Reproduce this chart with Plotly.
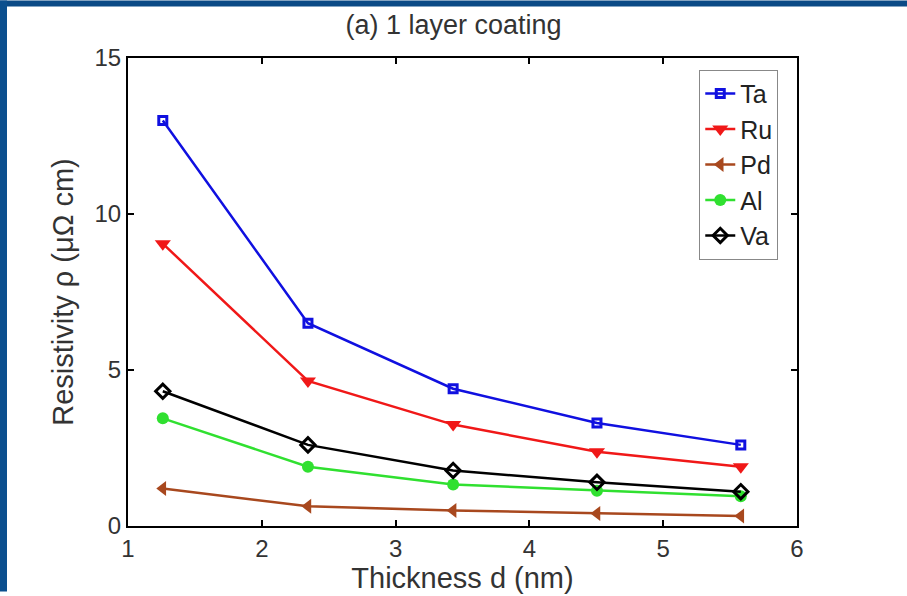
import plotly.graph_objects as go

# Film thickness (nm) and resistivity (µΩ·cm) for each coating metal
thickness = [1.26, 2.345, 3.43, 4.505, 5.58]
rho_ta = [13.0, 6.5, 4.4, 3.3, 2.6]
rho_ru = [9.05, 4.65, 3.25, 2.38, 1.9]
rho_pd = [1.2, 0.63, 0.5, 0.4, 0.32]
rho_al = [3.45, 1.9, 1.33, 1.13, 0.95]
rho_va = [4.32, 2.6, 1.78, 1.4, 1.1]

series = [
    ("Ta", rho_ta, "#1010e0", dict(symbol="square-open", size=8, line=dict(width=3))),
    ("Ru", rho_ru, "#f01818", dict(symbol="triangle-down", size=14)),
    ("Pd", rho_pd, "#a8481e", dict(symbol="triangle-left", size=13)),
    ("Al", rho_al, "#30e030", dict(symbol="circle", size=12)),
    ("Va", rho_va, "#000000", dict(symbol="diamond-open", size=11, line=dict(width=3))),
]

FONT = "Liberation Sans, Arial, sans-serif"

fig = go.Figure()
for name, vals, color, marker in series:
    fig.add_trace(go.Scatter(
        x=thickness, y=vals, name=name, mode="lines+markers",
        line=dict(color=color, width=2.5),
        marker=dict(color=color, **marker),
    ))

W, H = 907, 596
L, R, T, B = 128, 110, 58, 66

fig.update_layout(
    width=W, height=H,
    margin=dict(l=L, r=R, t=T, b=B),
    paper_bgcolor="white", plot_bgcolor="white",
    font=dict(family=FONT, size=24, color="#333333"),
    title=dict(text="(a) 1 layer coating", x=0.5, xanchor="center",
               y=1 - 25 / H, yanchor="middle", font=dict(size=27, color="#333333")),
    xaxis=dict(range=[1, 6], tickvals=[1, 2, 3, 4, 5, 6], showgrid=False, zeroline=False,
               showline=True, linecolor="black", linewidth=2, mirror="ticks",
               ticks="inside", ticklen=6, tickcolor="black", tickwidth=1.5,
               title=dict(text="Thickness d (nm)", standoff=2),
               tickfont=dict(size=24)),
    yaxis=dict(range=[0, 15], tickvals=[0, 5, 10, 15], showgrid=False, zeroline=False,
               showline=True, linecolor="black", linewidth=2, mirror="ticks",
               ticks="inside", ticklen=6, tickcolor="black", tickwidth=1.5,
               title=dict(text="Resistivity ρ (μΩ cm)", standoff=12),
               tickfont=dict(size=24)),
    legend=dict(x=0.972, y=0.975, xanchor="right", yanchor="top",
                bgcolor="white", bordercolor="#888888", borderwidth=1,
                font=dict(size=25, color="#222222"), itemwidth=30,
                tracegroupgap=0),
    showlegend=True,
)

# Dark blue slide border along the top and left edges
pw = W - L - R
ph = H - T - B
def px_x(p):
    return (p - L) / pw
def px_y(p):
    return (H - B - p) / ph

fig.add_shape(type="rect", xref="paper", yref="paper",
              x0=px_x(0), x1=px_x(W), y0=px_y(6), y1=px_y(0),
              fillcolor="#0b4a86", line=dict(width=0), layer="above")
fig.add_shape(type="rect", xref="paper", yref="paper",
              x0=px_x(0), x1=px_x(7), y0=px_y(H), y1=px_y(0),
              fillcolor="#0b4f8e", line=dict(width=0), layer="above")

fig.write_html("out.html")
